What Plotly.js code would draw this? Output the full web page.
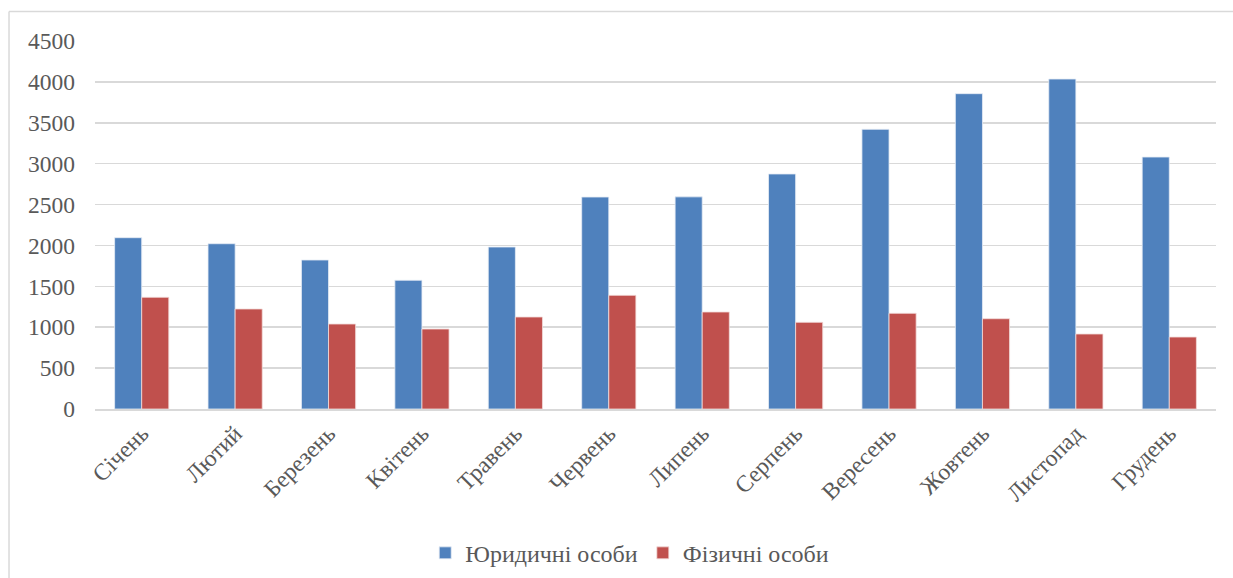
<!DOCTYPE html>
<html>
<head>
<meta charset="utf-8">
<script src="https://cdn.plot.ly/plotly-3.0.1.min.js"></script>
<style>html,body{margin:0;padding:0;background:#fff;}#chart{width:1233px;height:578px;}</style>
</head>
<body>
<div id="chart"></div>
<script>
const months = ["Січень","Лютий","Березень","Квітень","Травень","Червень","Липень","Серпень","Вересень","Жовтень","Листопад","Грудень"];
const legalEntities = [2095, 2021, 1822, 1574, 1981, 2592, 2594, 2874, 3420, 3856, 4035, 3081];
const individuals = [1366, 1223, 1039, 978, 1125, 1390, 1186, 1060, 1170, 1104, 917, 880];
const seriesNames = ["Юридичні особи", "Фізичні особи"];
const yTicks = [0, 500, 1000, 1500, 2000, 2500, 3000, 3500, 4000, 4500];

const font = "Times New Roman, Liberation Serif, Tinos, DejaVu Serif, serif";
const traces = [
  {type:"bar", name:seriesNames[0], x:months, y:legalEntities,
   marker:{color:"#4f81bd", line:{color:"#e6ecf5", width:0.8}}},
  {type:"bar", name:seriesNames[1], x:months, y:individuals,
   marker:{color:"#c0504d", line:{color:"#f3dcdb", width:0.8}}}
];
const layout = {
  width:1233, height:578,
  margin:{l:95, r:17, t:41, b:169, autoexpand:false},
  paper_bgcolor:"#fff", plot_bgcolor:"#fff",
  barmode:"group", bargap:0.42, bargroupgap:0,
  font:{family:font, color:"#595959", size:23},
  showlegend:true,
  legend:{orientation:"h", x:0.477, xanchor:"center", y:-0.392, yanchor:"middle",
          font:{family:font, size:24, color:"#595959"}, itemwidth:30, traceorder:"normal"},
  xaxis:{tickangle:-45, showgrid:false, showline:true, linecolor:"#d9d9d9", linewidth:1.5,
         automargin:false, ticks:"", tickfont:{family:font, size:23.5, color:"#595959"}, fixedrange:true},
  yaxis:{range:[0,4500], tickvals:yTicks, ticktext:yTicks.map(String), showgrid:true, gridcolor:"#d9d9d9", gridwidth:1.5,
         automargin:false, zeroline:false, showline:false, ticks:"", ticklabelstandoff:19,
         tickfont:{family:font, size:23.5, color:"#595959"}, fixedrange:true},
  shapes:[
    {type:"line", xref:"paper", yref:"paper", x0:-0.0767, x1:1.02, y0:1.080, y1:1.080, line:{color:"#d9d9d9", width:1.5}},
    {type:"line", xref:"paper", yref:"paper", x0:-0.0767, x1:-0.0767, y0:1.080, y1:-0.47, line:{color:"#d9d9d9", width:1.5}}
  ]
};
Plotly.newPlot("chart", traces, layout, {displayModeBar:false, staticPlot:true});
</script>
</body>
</html>
